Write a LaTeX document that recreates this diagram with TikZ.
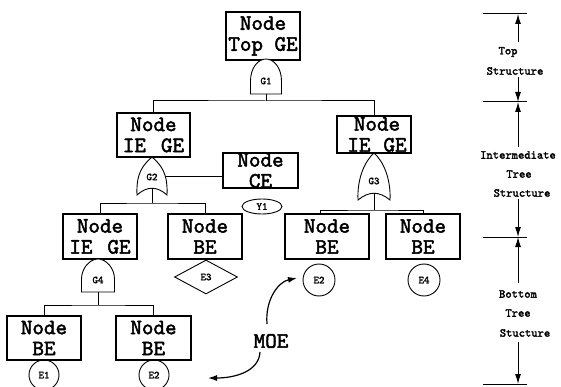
\documentclass[tikz,border=0pt]{standalone}
\usepackage{fontspec}
\setmainfont{lmmono10-regular.otf}[FakeBold=2.2]
\usetikzlibrary{shapes.geometric,arrows.meta}

\tikzset{
  treebox/.style={draw, line width=1.2pt, rectangle, inner sep=0pt, align=center,
    font=\fontsize{22}{21}\selectfont\bfseries},
  gateline/.style={draw, line width=0.9pt, fill=white},
  wire/.style={line width=1pt},
  tag/.style={inner sep=0pt, font=\fontsize{10.5}{11}\selectfont\bfseries},
  eventcirc/.style={draw, circle, line width=0.9pt, inner sep=0pt,
    font=\fontsize{10.5}{11}\selectfont\bfseries},
  scaletext/.style={inner sep=0pt, font=\fontsize{12}{13}\selectfont\bfseries},
  scalearrow/.style={line width=1pt, -{Latex[length=10pt,width=6pt]}},
  tick/.style={line width=1pt},
  moearrow/.style={line width=1.2pt, -{Latex[length=9pt,width=6pt]}},
}

% AND gate: centre x, top y, bottom y, half width (y grows downwards)
\newcommand{\andgateshape}[4]{%
  \path[gateline] (#1-#4,#3) -- (#1-#4,#3-13)
    .. controls (#1-#4,#2+9) and (#1-8,#2) .. (#1,#2)
    .. controls (#1+8,#2) and (#1+#4,#2+9) .. (#1+#4,#3-13)
    -- (#1+#4,#3) -- cycle;}
% OR gate: centre x, top y, bottom y, half width
\newcommand{\orgateshape}[4]{%
  \path[gateline] (#1,#2)
    .. controls (#1-9,#2+8) and (#1-#4-1,#3-22) .. (#1-#4,#3)
    .. controls (#1-5,#3-9) and (#1+5,#3-9) .. (#1+#4,#3)
    .. controls (#1+#4+1,#3-22) and (#1+9,#2+8) .. (#1,#2) -- cycle;}

\begin{document}
\begin{tikzpicture}[x=1pt,y=-1pt]
\useasboundingbox (0,0) rectangle (561,387);
\clip (0,0) rectangle (561,387);

% ---------- boxes ----------
\node[treebox, minimum width=74pt, minimum height=48pt] (top) at (263,36) {Node\\Top GE};
\node[treebox, minimum width=73pt, minimum height=44pt] (ieL) at (153.5,135) {Node\\IE\hspace{15pt}GE};
\node[treebox, minimum width=74pt, minimum height=37pt] (ieR) at (374,134.5)
  {\hspace*{6pt}Node\\\hspace*{6pt}IE\hspace{13pt}GE};
\node[treebox, minimum width=75pt, minimum height=35pt] (ce) at (260.5,170.5) {Node\\CE};
\node[treebox, minimum width=74pt, minimum height=45pt] (ieLL) at (100,236.5) {Node\\IE\hspace{15pt}GE};
\node[treebox, minimum width=74pt, minimum height=45pt] (beA) at (205,236.5) {Node\\BE};
\node[treebox, minimum width=84pt, minimum height=45pt] (beB) at (327,236.5) {Node\\BE};
\node[treebox, minimum width=74pt, minimum height=45pt] (beC) at (423,236.5) {Node\\BE};
\node[treebox, minimum width=74pt, minimum height=44pt] (beD) at (44,338) {Node\\BE};
\node[treebox, minimum width=75pt, minimum height=44pt] (beE) at (153.5,338) {Node\\BE};

% ---------- gates ----------
\andgateshape{266}{59}{94}{15.5}
\node[tag] (g1) at (266,81) {G1};
\orgateshape{152}{157}{195}{15}
\node[tag] (g2) at (152,177) {G2};
\orgateshape{374}{153}{200}{16}
\node[tag] (g3) at (374,181) {G3};
\andgateshape{98}{259}{292}{16.5}
\node[tag] (g4) at (98,280) {G4};

% ---------- events ----------
\node[draw, ellipse, line width=0.9pt, minimum width=40pt, minimum height=15pt, inner sep=0pt,
  font=\fontsize{10.5}{11}\selectfont\bfseries] (y1) at (262,206.5) {Y1};
\node[draw, diamond, line width=0.9pt, minimum width=63pt, minimum height=34pt, inner sep=0pt,
  font=\fontsize{10.5}{11}\selectfont\bfseries] (e3) at (206,277) {E3};
\node[eventcirc, minimum size=32pt] (e2a) at (319,280) {E2};
\node[eventcirc, minimum size=32pt] (e4) at (424,280) {E4};
\node[eventcirc, minimum size=30pt] (e1) at (44,375) {E1};
\node[eventcirc, minimum size=30pt] (e2b) at (154,375) {E2};

% ---------- wiring ----------
\coordinate (g1out) at (266,94);
\coordinate (bus1) at (266,101);
\draw[wire] (g1out) -- (bus1);
\draw[wire] (ieL.north) |- (bus1) -| (ieR.north);

\coordinate (g2out) at (152,188);
\coordinate (bus2) at (152,203);
\draw[wire] (g2out) -- (bus2);
\draw[wire] (ieLL.north) |- (bus2) -| (beA.north);
\coordinate (g2side) at (166,177);
\draw[wire] (g2side) -- (g2side -| ce.west);

\coordinate (g3out) at (374,193);
\coordinate (bus3) at (374,210);
\draw[wire] (g3out) -- (bus3);
\draw[wire] ([xshift=-7pt]beB.north) |- (bus3) -| (beC.north);

\coordinate (g4out) at (98,292);
\coordinate (bus4) at (98,305);
\draw[wire] (g4out) -- (bus4);
\draw[wire] (beD.north) |- (bus4) -| (beE.north);

% ---------- MOE ----------
\node[inner sep=0pt, font=\fontsize{22}{22}\selectfont\bfseries] (moe) at (271,341) {MOE};
\coordinate (moeUp) at (267,324);
\coordinate (moeUpTip) at (297,278);
\coordinate (moeDn) at (260,352);
\coordinate (moeDnTip) at (208,378);
\draw[moearrow] (moeUp) .. controls (265,300) and (278,282) .. (moeUpTip);
\draw[moearrow] (moeDn) .. controls (259,371) and (236,378) .. (moeDnTip);

% ---------- structure scale ----------
\coordinate (t1) at (518,14);
\coordinate (t2) at (518,102);
\coordinate (t3) at (518,237);
\coordinate (t4) at (518,384);
\foreach \t in {t1,t2,t3,t4}
  \draw[tick] ([xshift=-35pt]\t) -- ([xshift=9pt]\t);

\node[scaletext] (sTop) at (508,52) {Top};
\node[scaletext] (sTopB) at (515,71) {Structure};
\node[scaletext] (sMid) at (518,155) {Intermediate};
\node[scaletext] (sMidB) at (519,174) {Tree};
\node[scaletext] (sMidC) at (522,193) {Structure};
\node[scaletext] (sBot) at (518,294) {Bottom};
\node[scaletext] (sBotB) at (518,313) {Tree};
\node[scaletext] (sBotC) at (525,333) {Stucture};

\coordinate (a1) at (518,42);
\coordinate (a2) at (518,77);
\coordinate (a3) at (518,147);
\coordinate (a4) at (518,199);
\coordinate (a5) at (518,283);
\coordinate (a6) at (518,342);
\draw[scalearrow] (a1) -- (t1);
\draw[scalearrow] (a2) -- (t2);
\draw[scalearrow] (a3) -- (t2);
\draw[scalearrow] (a4) -- (t3);
\draw[scalearrow] (a5) -- (t3);
\draw[scalearrow] (a6) -- (t4);
\end{tikzpicture}
\end{document}
